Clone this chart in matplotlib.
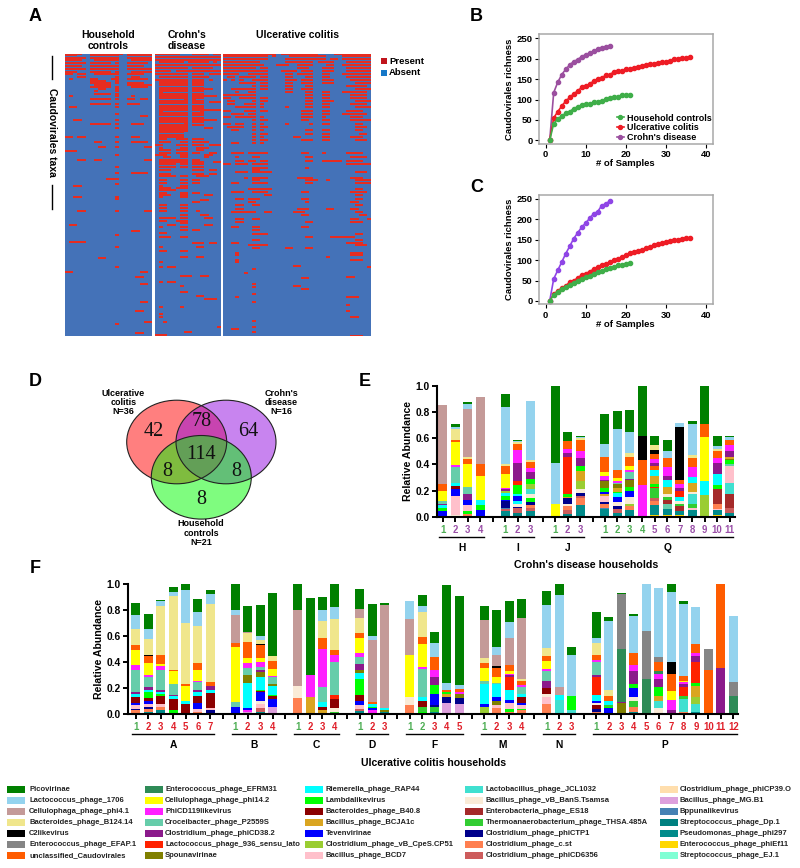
import numpy as np
import matplotlib
matplotlib.use("Agg")
import matplotlib.pyplot as plt
from matplotlib.colors import ListedColormap
from matplotlib.patches import Ellipse, Rectangle

plt.rcParams['font.family'] = ['Liberation Sans', 'DejaVu Sans']
plt.rcParams['font.weight'] = 'bold'

W, H = 800, 868

# ---------- Panel A : presence of taxa, "row col col-col ..." ----------
HH_ROWS = """0 0-3 8-9 12-13 16-18
1 0-2 6-11 12 15-20
4 0-4 6-11 12 15-20
6 0-3 7-11 12 16-20
9 0-4 6-10 12 15-19
12 0-3 6-11 12 15-18
15 0-4 6-11 12 15-20
18 0-2 6-10 12 16-20
20 0-1 3-4 7-11 12 15-18
23 3-4 12 16-17
25 1 6-7 11 12 15-19
27 6-9 12
29 6-10 12 15-18
31 7-10 15-20
33 6-8 9-10 12 16-19
35 8-9 12
37 7 12
40 7-10 12
42 1 12 16
45 6-10 12 15-16 18-19
50 6-10 12 15-17
53 1-2 12
60 12
62 18-19
66 2-3 12
70 6-8 12 9-10 16-18
74 12
83 0-1 3-4 12 16-17
88 7-8 12 16-19
93 8-9 12 19-20
97 0-2
101 12
106 3-4 7-8 19-20
113 12
119 12 16-19
125 10-11 12
130 12
132 2-3
143 2-3 12
145 12
157 3-4 12 19-20
171 1-2
177 16-17
181 12
188 1-2 3-4
193 12
204 8-9
213 12
218 0-1 18-19
223 17-18
230 18-19
248 18-19
257 17-18
268 19-20
270 12
279 17-18"""

# solid runs of the Crohn's group: first row, last row, first col, last col
CD_BLOCKS = [(28, 78, 1, 7), (28, 72, 9, 11), (78, 84, 1, 6)]
CD_GAPS = """33 1-7 9-11
39 2-7 9-11
46 1-6 10-11
51 1-7 9-11
58 2-7 9-10
63 1-7 9-11
70 1-6 9-11
80 1-6"""
CD_ROWS = """0 0-5 9-12 14-15
3 0-15
6 0-8 9-15
8 1-6 8-12 14
11 0-15
14 0-7 9-13
17 0-3 5-7 8-15
20 0-7 9-11 13-15
23 1-7 9-12
26 0-7 9-11 13
35 12-13
42 12-14
48 13-15
56 12-15
66 12-14
74 12-13
85 1-2 5-7 9-11
88 1-3 6-7 9-12
91 0-1 5-7 9-11 13-15
94 1 6-7 10-12
96 1-3 5-7 10-11
99 1-3 5-7 9-10 13-14
101 0-2 6-7 12-13
103 2-3 6-7 12
106 1-5 6-7 9-10
108 1-4 5-7 9-11 14-15
110 1-4 6-7 9-11
113 1-4 6-7 9-11
116 1-3 9-11 13-14
120 1-3 9-11 13-14
122 1-4 6-7 10-12
126 1-2 6-7 9-10
129 1-2 6-7 9-10
132 1 6-7
134 1-3 5-7
136 1-4
139 1-2 6-7 9-10
141 1-3 6-7 12-13
143 1 6-7
146 11-12
148 9-10
151 1-2 6-7
154 1-2 6-7
157 1-2 6-7 10
161 6-7 11-12
164 1-4 6-7 12-13
167 1-2 5-7
169 6-7
171 3-4 12-13
173 1 6-7
176 6-7 9-10
179 1-2
183 1-3 6-7
189 9-11 13-14
193 1 10-11
197 1-2 6-7
203 6-7 10-11
208 1
213 1 3-4
222 6-8 11-12
228 1 3-4
232 6
238 6-7
242 10-11
245 12-14
253 1 6
260 1
263 1
268 2
273 15
278 7-8
281 0-2"""

UC_ROWS = """0 0-12 14-22 27-35
2 0-10 12 16-24 29-35
5 0-8 9-10 15-18 19-24 26-27 29-35
8 0-8 15-17 18-21 23-26 30-35
11 0-8 9 13-15 18-21 25-26 29-35
14 0-7 9-10 18-20 24-26 30-35
17 0-8 9-10 14-17 19-21 24-26 30-35
20 0-3 6-8 9-10 15-16 18-21 24-25 29-35
23 1-2 4-7 9-10 15-16 20-21 24-25 30-35
26 0 2 4 7-8 9-10 15-17 19-21 24-26 31-35
29 4-7 9-10 15-16 19-21 24-26 32-35
32 7 9-10 15-16 20-21 30-34
35 2-7 9-10 15-16 19-21 32-35
38 3 6-7 15-16 20-21 24-25 29-34
41 0-2 3-7 20-21 24-25 31-34
44 0-1 4-7 9-10 20-21 24-25 31-34
47 1-2 7 9-10 20-21 24-26 32-35
50 1-2 5-7 9 20-21 24-25 31-34
53 3-6 7 9 15 20-21 24-25 32-35
57 0-1 5-7 9-10 19-21 24-25 30-33
60 2-4 6-7 19-21 24-25 29-34
63 0-1 3-7 9 19-21 24 31-33
66 7 9-10 19-20 24-25 31-35
70 0-1 3-4 7 9 15 21 24-25 32-33
73 1-4 7 9-10 32-34
76 2-3 7 9 20-21 24-25 32-33
80 7 9-10 20-21 24-25 33-34
83 7 9 17-18 24-25 31-33
86 7 9-10 19-21 24-25 32-34
89 2-3 7 9
99 2-4 6-8 9-10 19-20 24 30-33
103 3 7-8 20-21 31-34
107 3-4 6-7 9-10 20-21 24-26 27-28 30-33
110 0-1 3-5 7-8 9-10 30-35
114 7-8 9-10 20
116 7-8
118 3-5 7-8 9-11 32-34
124 5 7-8 9-10 18-19 20-21 31-33
126 7-8 20-22 25 32-35
129 2-3 7-8 9-10 20-21 32-33 34-35
135 6-8 9-11 32-33
138 2-4 7-8 9-10 19-20 31-34
141 10-11 32-33
145 3-4 6-8 19-20 32-33
148 6-7 20 31-32
151 3-4 7-8 32-33
155 3-4 18-20 25-26 31-32
158 2-4 5-7 10-11 17-19 32-33
161 19-20 33-34
165 3-4 7-8 31-32 35
168 3-4 20-21 31-33
173 2-3 7-8 19-20
176 7-8
180 7-8 9-10 32-33
183 20-21 26-27 28-29 30-31
186 7-8 32-33
189 2-3 30-31 32-33
191 6-8 9-10 32-34
194 7-8 15-16 20-21
199 3 31-33
201 3 31-33
203 25
206 3 31-33
208 3
212 17-18
213 35
215 7
219 5
223 30-31
224 19-20
230 7
232 17-18
233 7
235 19-20
240 7
243 3 30-32
248 7
251 30
257 30
263 31-32
267 7
273 7
275 2-3
278 7
282 31-33"""

N_TAXA_ROWS = 283
N_HH, N_CD, N_UC = 21, 16, 36

def build(text, ncol, blocks=(), gaps=""):
    m = np.zeros((N_TAXA_ROWS, ncol))
    for r0, r1, c0, c1 in blocks:
        m[r0:r1 + 1, c0:c1 + 1] = 1
    for value, source, thick in ((0, gaps, 1), (1, text, 2)):
        for line in source.splitlines():
            parts = line.split()
            r = int(parts[0])
            for tok in parts[1:]:
                a, _, b = tok.partition('-')
                m[r:r + thick, int(a):int(b or a) + 1] = value
    return m

# ---------- Panels B, C ----------
B_CD = [0, 117, 142, 161, 174, 185, 193, 198, 205, 210, 214, 219, 223, 226, 228, 232]
B_UC = [0, 55, 70, 84, 96, 105, 114, 121, 130, 133, 137, 146, 150, 152, 160, 160, 168, 169,
        171, 174, 175, 177, 180, 182, 185, 186, 188, 190, 192, 192, 195, 199, 200, 201, 202, 204]
B_HH = [0, 41, 52, 60, 66, 70, 78, 82, 86, 88, 90, 93, 95, 97, 101, 103, 105, 105, 110, 110, 112]
C_CD = [0, 54, 75, 95, 116, 134, 153, 167, 181, 191, 203, 214, 219, 234, 238, 245]
C_UC = [0, 17, 24, 32, 37, 46, 50, 56, 64, 67, 72, 78, 83, 88, 91, 95, 100, 104,
        107, 112, 117, 121, 123, 126, 129, 132, 136, 139, 141, 144, 147, 149, 150, 152, 154, 155]
C_HH = [0, 15, 23, 29, 34, 40, 45, 50, 55, 59, 62, 67, 71, 74, 78, 81, 84, 87, 89, 91, 93]

# ---------- Panel D ----------
VENN_COUNTS = {'uc': 42, 'uc_cd': 78, 'cd': 64, 'all': 114, 'uc_hh': 8, 'cd_hh': 8, 'hh': 8}

# ---------- Taxa (top of stack first) ----------
TAXA = [
    ('pi', 'Picovirinae', '#008000'), ('la', 'Lactococcus_phage_1706', '#94d3ee'),
    ('ce', 'Cellulophaga_phage_phi4.1', '#c49a98'), ('bb', 'Bacteroides_phage_B124.14', '#f0e68c'),
    ('c2', 'C2likevirus', '#000000'), ('ef', 'Enterococcus_phage_EFAP.1', '#858585'),
    ('un', 'unclassified_Caudovirales', '#ff5c00'), ('eg', 'Enterococcus_phage_EFRM31', '#2e8b57'),
    ('ye', 'Cellulophaga_phage_phi14.2', '#ffff00'), ('ma', 'PhiCD119likevirus', '#ff1fff'),
    ('cr', 'Croceibacter_phage_P2559S', '#66cdaa'), ('pu', 'Clostridium_phage_phiCD38.2', '#8b1a8b'),
    ('re', 'Lactococcus_phage_936_sensu_lato', '#ff2200'), ('sp', 'Spounavirinae', '#808000'),
    ('ri', 'Riemerella_phage_RAP44', '#00ffff'), ('lb', 'Lambdalikevirus', '#00ff00'),
    ('bd', 'Bacteroides_phage_B40.8', '#8b0000'), ('bj', 'Bacillus_phage_BCJA1c', '#daa520'),
    ('te', 'Tevenvirinae', '#0000ff'), ('cp', 'Clostridium_phage_vB_CpeS.CP51', '#9acd32'),
    ('bc', 'Bacillus_phage_BCD7', '#ffc0cb'), ('jc', 'Lactobacillus_phage_JCL1032', '#40e0d0'),
    ('ts', 'Bacillus_phage_vB_BanS.Tsamsa', '#faebd7'), ('es', 'Enterobacteria_phage_ES18', '#a52a2a'),
    ('th', 'Thermoanaerobacterium_phage_THSA.485A', '#32cd32'), ('ct', 'Clostridium_phage_phiCTP1', '#00008b'),
    ('cs', 'Clostridium_phage_c.st', '#ff7f50'), ('cd', 'Clostridium_phage_phiCD6356', '#cd5c5c'),
    ('co', 'Clostridium_phage_phiCP39.O', '#ffdead'), ('mg', 'Bacillus_phage_MG.B1', '#dda0dd'),
    ('bp', 'Bppunalikevirus', '#4682b4'), ('dp', 'Streptococcus_phage_Dp.1', '#008080'),
    ('ph', 'Pseudomonas_phage_phi297', '#008b8b'), ('ee', 'Enterococcus_phage_phiEf11', '#ffd700'),
    ('ej', 'Streptococcus_phage_EJ.1', '#7fffd4'),
]
COLORS = {k: c for k, _, c in TAXA}

# ---------- Panel E : "taxon cumulative_top ..." from bottom ----------
E_H = ["te .043 lb .07 ri .09 pu .10 cr .12 ye .20 un .25 ce .855",
       "ts .01 bc .16 te .21 bd .235 ri .26 cr .38 ma .395 ye .57 un .585 bb .67 la .69 pi .71",
       "cs .02 lb .04 bc .09 te .13 pu .17 cr .23 ye .40 un .44 bb .46 ce .825 la .86 pi .875",
       "te .055 lb .09 ri .13 ye .31 un .40 ce .915"]
E_I = ["ph .04 cd .06 bp .07 ct .12 te .13 lb .16 ri .18 cp .20 pu .215 ma .22 ye .33 un .39 bb .40 la .84 pi .94",
       "dp .025 cd .07 ct .075 ts .10 ri .12 te .155 ri .175 lb .24 re .27 pu .41 ma .51 un .56 bb .57 la .58 pi .585",
       "ph .045 cd .07 cs .09 ct .11 lb .14 ts .17 jc .21 cp .25 lb .29 pu .34 ma .37 un .42 bb .43 la .885"]
E_J = ["ye .095 la .41 pi 1.0",
       "dp .02 cd .05 cs .08 ts .10 ct .14 bj .15 lb .17 re .46 pu .49 ma .52 un .58 pi .65",
       "ph .09 cs .14 cd .16 ct .18 ts .21 cp .27 bj .35 lb .39 pu .45 ma .50 un .59 bb .60 la .61 pi .62"]
E_Q = ["ph .06 bp .07 cs .10 ct .11 bc .16 bj .17 te .19 lb .22 sp .27 pu .28 ma .31 ye .34 un .455 la .56 pi .785",
       "ph .03 cd .06 ct .08 ts .11 te .15 ri .18 lb .19 bj .22 sp .25 cr .26 ma .27 ye .295 un .36 la .67 pi .805",
       "ph .055 cs .085 cp .10 ts .15 te .20 lb .23 sp .28 pu .29 cr .34 ma .36 ye .39 un .455 bb .49 la .65 pi .815",
       "ma .24 un .43 c2 .62 pi 1.0",
       "ee .015 ph .09 cs .12 cd .14 th .22 re .225 lb .25 bj .31 ri .36 un .39 pu .41 ma .44 un .48 c2 .51 bb .55 pi .615",
       "ee .01 ph .06 cr .10 es .13 th .15 ts .17 bj .23 ri .28 pu .31 ma .38 un .45 la .50 pi .585",
       "ee .015 ph .04 es .08 th .10 ts .12 ri .15 re .20 pu .22 ma .25 un .28 c2 .685 la .715",
       "ph .05 bc .07 th .10 jc .17 ts .19 bj .26 ri .30 ma .38 un .45 bb .47 la .71 pi .73",
       "cp .165 ri .27 ye .61 un .71 pi 1.0",
       "ee .01 ph .05 bc .06 cs .10 es .21 lb .24 ri .33 pu .41 ma .45 un .50 bb .52 la .54 pi .62",
       "ph .025 bb .03 cd .07 es .17 jc .255 bc .39 cr .40 lb .43 sp .445 bj .46 pu .50 ma .545 un .59 la .61 pi .615"]

# ---------- Panel F ----------
F_A = ["cd .01 cs .03 ct .04 bc .07 te .09 bd .13 ri .16 pu .17 cr .34 ma .38 ye .495 un .53 bb .655 la .765 pi .86",
       "ph .015 cs .04 ct .06 bc .08 te .10 bd .125 lb .175 ri .19 pu .21 cr .285 ma .30 ye .395 un .45 c2 .455 bb .58 la .655 pi .77",
       "ph .03 cs .06 bc .08 bd .14 lb .16 ri .17 pu .19 cr .34 ma .37 ye .39 un .46 bb .83 la .875 pi .88",
       "lb .03 bd .12 ri .14 pu .15 cr .23 ma .235 ye .33 un .34 bb .91 la .94 pi .98",
       "bd .08 ri .10 ye .22 un .235 bb .705 la .96 pi 1.0",
       "cs .02 bc .04 te .09 bd .14 ri .17 pu .185 cr .25 ma .26 ye .34 un .395 bb .68 la .79 pi .885",
       "ct .03 bc .05 bd .165 ri .19 pu .215 un .245 bb .85 la .925 pi .955"]
F_B = ["te .06 cr .095 ye .52 un .55 ce .765 la .80 pi 1.0",
       "mg .02 ma .03 te .05 ri .24 sp .30 cr .355 ma .395 ye .43 un .555 bb .625 ce .635 pi .83",
       "ph .015 cd .05 bc .08 ts .10 te .17 bd .18 lb .19 ri .29 sp .325 pu .34 cr .365 ma .40 ye .43 un .53 c2 .54 bb .575 la .605 pi .84",
       "mg .06 te .12 bd .14 lb .15 ri .215 sp .23 cr .285 ma .295 ye .345 un .41 bb .45 pi .93"]
F_C = ["cs .125 ts .215 ce .805 pi 1.0",
       "bj .135 ma .305 pi .895",
       "bj .03 bd .055 ri .095 cr .21 ma .50 un .585 bb .72 la .80 pi .905",
       "th .02 ts .05 bd .115 re .15 cr .40 ma .46 un .495 bb .73 la .825 pi 1.0"]
F_D = ["ph .025 cd .04 bc .075 te .10 bd .145 lb .27 ri .315 sp .34 pu .39 cr .44 ma .47 ye .585 un .625 bb .74 ce .81 pi .965",
       "bp .01 ma .03 te .045 lb .06 ri .08 un .095 ce .57 la .60 pi .845",
       "ph .02 sp .03 ri .045 ce .84 pi .855"]
F_F = ["cs .075 ts .135 ye .455 ce .73 la .87",
       "dp .01 lb .02 th .06 bd .10 ri .13 cr .35 ma .365 ye .54 un .595 bb .79 la .83 pi .92",
       "ph .015 th .06 ct .07 te .16 lb .225 pu .29 ma .34 un .44 la .545 pi .63",
       "mg .085 ct .135 bj .16 lb .17 un .185 la .24 pi .995",
       "mg .08 ct .125 sp .16 ma .17 un .195 la .225 pi .91"]
F_M = ["cp .055 te .08 ri .23 cr .255 ye .355 un .395 bb .43 ce .725 pi .83",
       "cs .05 bc .07 sp .10 te .13 ri .23 cr .24 ye .29 un .355 c2 .37 ce .46 la .515 pi .80",
       "cs .02 lb .04 bc .09 te .11 ri .19 re .29 pu .30 ma .31 ye .335 un .38 ce .59 la .71 pi .87",
       "cs .03 lb .04 bc .07 te .09 bd .135 ri .16 cr .21 ma .225 un .255 bb .275 ce .74 pi .89"]
F_N = ["ph .01 cs .08 bc .13 ts .16 bd .20 pu .255 cr .33 ma .35 ye .41 un .445 bb .51 la .84 pi .945",
       "jc .11 ri .145 ce .21 la .915 pi 1.0",
       "jc .03 lb .14 la .46 pi .52"]
F_P = ["cd .01 cs .02 ct .04 bd .07 ts .09 te .10 ri .15 re .29 pu .30 cr .40 ma .42 un .46 bb .55 la .59 pi .79",
       "te .045 lb .055 th .075 ri .10 ma .105 un .14 bb .19 la .72 pi .745",
       "sp .09 pu .095 eg .505 ef .925 pi .935",
       "ph .02 cs .06 th .10 ts .13 te .20 lb .235 pu .33 ma .38 un .47 la .76 pi .77",
       "eg .27 ef .64 la 1.0",
       "ts .05 jc .10 bj .14 lb .21 pu .27 ma .31 eg .33 un .40 ef .44 la .975",
       "pu .03 ma .11 ye .18 un .31 c2 .40 la .94 pi 1.0",
       "cs .02 jc .12 th .14 re .21 pu .23 ma .245 ye .26 un .295 la .85 pi .87",
       "dp .01 ph .02 jc .08 cp .13 bj .22 lb .24 re .40 pu .45 ma .47 un .54 la .825",
       "un .34 ef .50",
       "pu .355 un 1.0",
       "eg .14 ef .25 la .755"]

GREEN, RED, PURPLE = '#4fae55', '#e0202a', '#9a50a8'
E_GROUPS = [('H', E_H, 'gppp'), ('I', E_I, 'gpp'), ('J', E_J, 'gpp'), ('Q', E_Q, 'ggggppppppp')]
F_GROUPS = [('A', F_A, 'grrrrrr'), ('B', F_B, 'grrr'), ('C', F_C, 'grrr'), ('D', F_D, 'grr'),
            ('F', F_F, 'ggrrr'), ('M', F_M, 'grrr'), ('N', F_N, 'grr'), ('P', F_P, 'grrrrrrrrrrr')]
LABEL_COLORS = {'g': GREEN, 'r': RED, 'p': PURPLE}

fig = plt.figure(figsize=(W / 100, H / 100), dpi=100, facecolor='white')

def axes_px(x0, y0, x1, y1, **kw):
    return fig.add_axes([x0 / W, 1 - y1 / H, (x1 - x0) / W, (y1 - y0) / H], **kw)

# ---- A
cmap = ListedColormap(['#4472b8', '#e62c20'])
heat = [(65.3, 151.3, build(HH_ROWS, N_HH)),
        (155, 220.3, build(CD_ROWS, N_CD, CD_BLOCKS, CD_GAPS)),
        (223.3, 371, build(UC_ROWS, N_UC))]
for x0, x1, mat in heat:
    a = axes_px(x0, 53.5, x1, 336)
    a.imshow(mat, aspect='auto', cmap=cmap, vmin=0, vmax=1, interpolation='nearest')
    a.axis('off')

# ---- B, C
def richness(box, cd, uc, hh, cd_color, ylim, with_legend=False):
    a = axes_px(*box)
    for vals, col, lab in ((cd, cd_color, "Crohn's disease"), (uc, '#ee1c25', 'Ulcerative colitis'),
                           (hh, '#3fae49', 'Household controls')):
        a.plot(np.arange(1, len(vals) + 1), vals, '-o', color=col, lw=1.2, ms=3.0, label=lab)
    a.set_xlim(-1.75, 41.75)
    a.set_ylim(*ylim)
    a.set_xticks([0, 10, 20, 30, 40])
    a.set_yticks([0, 50, 100, 150, 200, 250])
    a.tick_params(labelsize=6.8, length=3, width=0.8, pad=1.5)
    for s in a.spines.values():
        s.set_color('#a8a8a8')
        s.set_linewidth(1.1)
    a.set_xlabel('# of Samples', fontsize=6.8, fontweight='bold', labelpad=0)
    a.set_ylabel('Caudovirales richness', fontsize=6.8, fontweight='bold', labelpad=2)
    if with_legend:
        h, l = a.get_legend_handles_labels()
        a.legend(h[::-1], l[::-1], loc='lower right', bbox_to_anchor=(0.995, 0.015), frameon=False,
                 fontsize=6.5, handlelength=0.8, handletextpad=0.35, labelspacing=0.1,
                 borderaxespad=0, borderpad=0, markerscale=0.95)
    return a

richness((538.7, 34, 712.7, 144), B_CD, B_UC, B_HH, '#9b4f9f', (-9, 260.6), True)
richness((538.7, 195, 712.7, 304.3), C_CD, C_UC, C_HH, '#8f45e6', (-8.2, 259.8))

# ---- E, F
def stacks(box, xlim, groups):
    a = axes_px(*box)
    pos = 0
    ticks, labels, cols, seps, spans = [], [], [], [], []
    for name, bars, kinds in groups:
        start = pos
        for i, (bar, kind) in enumerate(zip(bars, kinds)):
            t = bar.split()
            keys, tops = t[0::2], np.array(t[1::2], float)
            bottoms = np.r_[0, tops[:-1]]
            a.bar([pos] * len(keys), tops - bottoms, bottom=bottoms, width=0.72,
                  color=[COLORS[k] for k in keys], linewidth=0)
            ticks.append(pos)
            labels.append(str(i + 1))
            cols.append(LABEL_COLORS[kind])
            pos += 1
        spans.append((name, start, pos - 1))
        seps.append(pos)
        pos += 1
    seps = seps[:-1]
    a.set_xlim(*xlim)
    a.set_ylim(0, 1)
    a.set_yticks(np.arange(0, 1.01, 0.2))
    a.set_yticklabels([f'{v:.1f}' for v in np.arange(0, 1.01, 0.2)])
    a.set_xticks(ticks + seps)
    a.set_xticklabels(labels + [''] * len(seps))
    for lab, c in zip(a.get_xticklabels(), cols):
        lab.set_color(c)
    a.tick_params(axis='y', labelsize=7.4, length=3.6, width=1.4, pad=1.5)
    a.tick_params(axis='x', labelsize=6.9, length=3.4, width=1.4, pad=2.5)
    for s in ('top', 'right'):
        a.spines[s].set_visible(False)
    for s in ('left', 'bottom'):
        a.spines[s].set_linewidth(1.5)
    a.set_ylabel('Relative Abundance', fontsize=7.6, fontweight='bold', labelpad=2)
    a.set_facecolor('none')
    return a, spans

ax_e, e_spans = stacks((436.7, 386, 735, 516.7), (-0.5, 23.43), E_GROUPS)
ax_f, f_spans = stacks((128, 584.3, 738.3, 714.3), (-0.62, 48.4), F_GROUPS)

# ---- overlay in pixel coordinates
ov = fig.add_axes([0, 0, 1, 1], facecolor='none')
ov.set_xlim(0, W)
ov.set_ylim(H, 0)
ov.axis('off')

def T(x, y, s, size=6.8, ha='center', va='center', **kw):
    ov.text(x, y, s, fontsize=size, ha=ha, va=va, **kw)

for letter, x, y in (('A', 29, 21), ('B', 470, 21), ('C', 470, 192), ('D', 29, 386), ('E', 359, 386), ('F', 30, 573)):
    T(x, y, letter, size=13, ha='left', va='baseline')

T(108, 35, 'Household', 7.5); T(108, 46, 'controls', 7.5)
T(187, 35, "Crohn's", 7.5); T(187, 46, 'disease', 7.5)
T(297, 35, 'Ulcerative colitis', 7.5)
T(52, 132, 'Caudovirales taxa', 7.5, rotation=-90)
ov.plot([52, 52], [56, 79], color='k', lw=1)
ov.plot([52, 52], [185, 209], color='k', lw=1)
ov.add_patch(Rectangle((381, 58), 6, 6, color='#c0141c', lw=0))
ov.add_patch(Rectangle((381, 69.5), 6, 6, color='#1678c8', lw=0))
T(389, 61, 'Present', 6.8, ha='left')
T(389, 72.5, 'Absent', 6.8, ha='left')

# Venn
for cx, cy, col in ((176.7, 442, '#ff0000'), (226, 442, '#930be1'), (201.3, 477.3, '#00fa00')):
    ov.add_patch(Ellipse((cx, cy), 100, 83.6, facecolor=col, alpha=0.5, lw=0, zorder=2))
for cx, cy in ((176.7, 442), (226, 442), (201.3, 477.3)):
    ov.add_patch(Ellipse((cx, cy), 100, 83.6, facecolor='none', edgecolor='#222222', lw=0.8, zorder=3))
for key, x, y in (('uc', 154, 432), ('uc_cd', 201.5, 421), ('cd', 248, 431), ('all', 201.5, 454.5),
                  ('uc_hh', 167, 471), ('cd_hh', 236, 471), ('hh', 201, 499)):
    T(x, y, str(VENN_COUNTS[key]), 14.5, family=['Liberation Serif'], fontweight='normal', color='#111111', zorder=4)
for x, y0, lines in ((123.5, 393, ('Ulcerative', 'colitis', 'N=36')),
                     (281.5, 393, ("Crohn's", 'disease', 'N=16')),
                     (201, 524, ('Household', 'controls', 'N=21'))):
    for i, s in enumerate(lines):
        T(x, y0 + i * 9.2, s, 6.5)

# Group bars and names of panels E and F
def x_of(ax, v):
    disp = ax.transData.transform((v, 0))
    return ov.transData.inverted().transform(disp)[0]

for ax, spans, yl, yn in ((ax_e, e_spans, 536.7, 548), (ax_f, f_spans, 734, 745.5)):
    for name, a, b in spans:
        x0, x1 = x_of(ax, a - 0.3), x_of(ax, b + 0.3)
        ov.plot([x0, x1], [yl, yl], color='k', lw=1)
        T((x0 + x1) / 2, yn, name, 7.4)
T(586, 565, "Crohn's disease households", 7.7)
T(433.5, 763.5, 'Ulcerative colitis households', 7.6)

# Taxa legend
col_x = [(7, 29), (145, 165), (305, 326), (465, 486), (660, 680)]
row_y = [789.7, 800.7, 811.7, 822.7, 833.7, 844.7, 855.7]
for i, (_, name, color) in enumerate(TAXA):
    sx, tx = col_x[i // 7]
    y = row_y[i % 7]
    ov.add_patch(Rectangle((sx, y - 3.6), 18, 7.2, color=color, lw=0))
    T(tx, y, name, 5.5, ha='left', color='#222222')

fig.savefig('out.png', dpi=100)
